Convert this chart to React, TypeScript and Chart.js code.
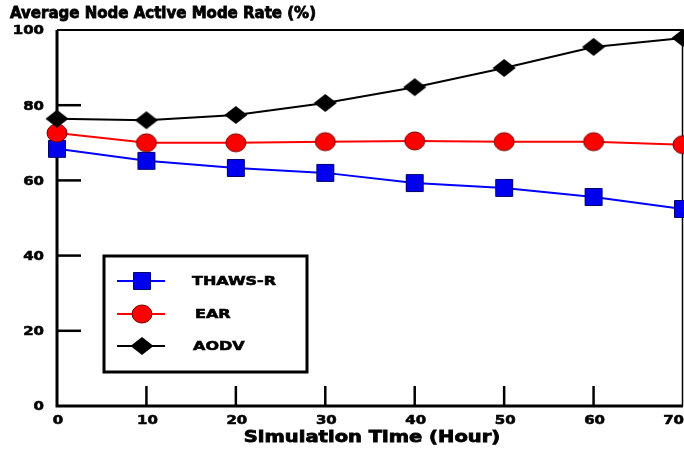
import React, { useEffect, useRef } from 'react';
import { Chart, registerables } from 'chart.js';
Chart.register(...registerables);

const hours = [0, 10, 20, 30, 40, 50, 60, 70];
const thawsR = [68.4, 65.2, 63.3, 62.0, 59.3, 58.0, 55.6, 52.4];
const ear = [72.6, 70.0, 70.0, 70.3, 70.5, 70.3, 70.3, 69.5];
const aodv = [76.4, 76.0, 77.4, 80.6, 84.8, 89.9, 95.5, 97.9];
const seriesNames = ['THAWS-R', 'EAR', 'AODV'];
const yTickValues = [0, 20, 40, 60, 80, 100];
const xTickValues = [0, 10, 20, 30, 40, 50, 60, 70];
const chartTitle = 'Average Node Active Mode Rate (%)';
const xTitle = 'Simulation Time (Hour)';

const FONT = '"DejaVu Sans", sans-serif';

function drawMarker(ctx: CanvasRenderingContext2D, kind: string, x: number, y: number) {
  ctx.save();
  ctx.lineWidth = 1;
  if (kind === 'rect') {
    ctx.fillStyle = '#0000ee';
    ctx.strokeStyle = '#000070';
    ctx.beginPath();
    ctx.rect(x - 8.5, y - 8.5, 17, 17);
    ctx.fill();
    ctx.stroke();
  } else if (kind === 'circle') {
    ctx.fillStyle = '#ff0000';
    ctx.strokeStyle = '#700000';
    ctx.beginPath();
    ctx.ellipse(x, y, 10, 9, 0, 0, Math.PI * 2);
    ctx.fill();
    ctx.stroke();
  } else {
    ctx.fillStyle = '#000';
    ctx.beginPath();
    ctx.moveTo(x - 11.5, y);
    ctx.lineTo(x, y - 9);
    ctx.lineTo(x + 11.5, y);
    ctx.lineTo(x, y + 9);
    ctx.closePath();
    ctx.fill();
  }
  ctx.restore();
}

function markerCanvas(kind: string): HTMLCanvasElement {
  const c = document.createElement('canvas');
  c.width = 26;
  c.height = 22;
  const ctx = c.getContext('2d')!;
  drawMarker(ctx, kind, 13, 11);
  return c;
}

function wideText(ctx: any, text: string, x: number, y: number, sx: number, align: string, heavy = 0.6) {
  const w = ctx.measureText(text).width * sx;
  let startX = x;
  if (align === 'center') startX = x - w / 2;
  else if (align === 'right') startX = x - w;
  if (startX + w > 684) startX = 684 - w;
  ctx.save();
  ctx.translate(startX, y);
  ctx.scale(sx, 1);
  ctx.textAlign = 'left';
  ctx.fillText(text, 0, 0);
  if (heavy > 0) {
    ctx.lineWidth = heavy;
    ctx.strokeStyle = ctx.fillStyle;
    ctx.strokeText(text, 0, 0);
  }
  ctx.restore();
}

const framePlugin = {
  id: 'frame',
  beforeDatasetsDraw(chart: any) {
    const { ctx, chartArea: a, scales } = chart;
    ctx.save();
    ctx.strokeStyle = '#000';
    ctx.lineWidth = 2;
    ctx.beginPath();
    ctx.moveTo(a.left, a.top);
    ctx.lineTo(a.right, a.top);
    ctx.stroke();
    ctx.lineWidth = 1.5;
    ctx.beginPath();
    ctx.moveTo(a.right - 0.5, a.top);
    ctx.lineTo(a.right - 0.5, a.bottom);
    ctx.stroke();
    ctx.lineWidth = 3;
    ctx.beginPath();
    ctx.moveTo(a.left, a.top);
    ctx.lineTo(a.left, a.bottom);
    ctx.lineTo(a.right, a.bottom);
    ctx.stroke();
    ctx.lineWidth = 2.5;
    for (const v of yTickValues) {
      if (v === 0 || v === 100) continue;
      const y = scales.y.getPixelForValue(v);
      ctx.beginPath();
      ctx.moveTo(a.left, y);
      ctx.lineTo(a.left + 24, y);
      ctx.stroke();
    }
    for (const v of xTickValues) {
      if (v === 0 || v === 70) continue;
      const x = scales.x.getPixelForValue(v);
      ctx.beginPath();
      ctx.moveTo(x, a.bottom);
      ctx.lineTo(x, a.bottom - 20);
      ctx.stroke();
    }
    ctx.fillStyle = '#000';
    ctx.font = `bold 13px ${FONT}`;
    ctx.textBaseline = 'middle';
    for (const v of yTickValues) {
      const y = scales.y.getPixelForValue(v);
      wideText(ctx, String(v), 44, y + 1, 1.15, 'right');
    }
    for (const v of xTickValues) {
      const x = scales.x.getPixelForValue(v);
      wideText(ctx, String(v), x + 1, a.bottom + 15, 1.15, 'center');
    }
    ctx.font = `bold 16px ${FONT}`;
    wideText(ctx, xTitle, 372, 438, 1.22, 'center', 0.8);
    ctx.restore();
  },
  afterDraw(chart: any) {
    const { ctx } = chart;
    ctx.save();
    ctx.fillStyle = '#000';
    ctx.font = `bold 15px ${FONT}`;
    ctx.textBaseline = 'middle';
    wideText(ctx, chartTitle, 10, 14, 1.0, 'left', 0.8);
    ctx.fillStyle = '#fff';
    ctx.fillRect(104, 256, 203, 116);
    ctx.strokeStyle = '#000';
    ctx.lineWidth = 3;
    ctx.strokeRect(104, 256, 203, 116);
    const rows = [
      { name: seriesNames[0], kind: 'rect', color: '#0000ff', y: 281, tx: 192 },
      { name: seriesNames[1], kind: 'circle', color: '#ff0000', y: 314, tx: 195 },
      { name: seriesNames[2], kind: 'rectRot', color: '#000', y: 346, tx: 193 },
    ];
    for (const r of rows) {
      ctx.strokeStyle = r.color;
      ctx.lineWidth = 2;
      ctx.beginPath();
      ctx.moveTo(117, r.y);
      ctx.lineTo(165, r.y);
      ctx.stroke();
      drawMarker(ctx, r.kind, 142, r.y);
      ctx.fillStyle = '#000';
      ctx.font = `bold 13px ${FONT}`;
      ctx.textBaseline = 'middle';
      wideText(ctx, r.name, r.tx, r.y + 1, 1.23, 'left');
    }
    ctx.restore();
  },
};

export default function App() {
  const ref = useRef<HTMLCanvasElement | null>(null);
  useEffect(() => {
    document.body.style.margin = '0';
    const canvas = ref.current!;
    const toXY = (arr: number[]) => hours.map((h, i) => ({ x: h, y: arr[i] }));
    const chart = new Chart(canvas, {
      type: 'line',
      data: {
        datasets: [
          {
            label: seriesNames[2],
            data: toXY(aodv),
            borderColor: '#000',
            backgroundColor: '#000',
            borderWidth: 2,
            pointStyle: markerCanvas('rectRot'),
            pointRadius: 11,
            clip: false,
          },
          {
            label: seriesNames[1],
            data: toXY(ear),
            borderColor: '#ff0000',
            backgroundColor: '#ff0000',
            borderWidth: 2,
            pointStyle: markerCanvas('circle'),
            pointRadius: 10,
            clip: false,
          },
          {
            label: seriesNames[0],
            data: toXY(thawsR),
            borderColor: '#0000ff',
            backgroundColor: '#0000ee',
            borderWidth: 2,
            pointStyle: markerCanvas('rect'),
            pointRadius: 9,
            clip: false,
          },
        ],
      },
      options: {
        animation: false,
        responsive: false,
        layout: { autoPadding: false, padding: { top: 30, right: 1, left: 0, bottom: 0 } },
        plugins: { legend: { display: false }, title: { display: false }, tooltip: { enabled: false } },
        scales: {
          x: {
            type: 'linear',
            min: 0,
            max: 70,
            afterBuildTicks: (s: any) => { s.ticks = xTickValues.map((v) => ({ value: v })); },
            afterFit: (s: any) => { s.height = 48; s.paddingLeft = 0; s.paddingRight = 0; },
            grid: { display: false, drawTicks: false },
            border: { display: false },
            ticks: { display: false },
          },
          y: {
            min: 0,
            max: 100,
            afterBuildTicks: (s: any) => { s.ticks = yTickValues.map((v) => ({ value: v })); },
            afterFit: (s: any) => { s.width = 57; s.paddingTop = 0; s.paddingBottom = 0; },
            grid: { display: false, drawTicks: false },
            border: { display: false },
            ticks: { display: false },
          },
        },
      },
      plugins: [framePlugin],
    });
    return () => chart.destroy();
  }, []);
  return <canvas ref={ref} width={684} height={454} style={{ display: 'block' }} />;
}
